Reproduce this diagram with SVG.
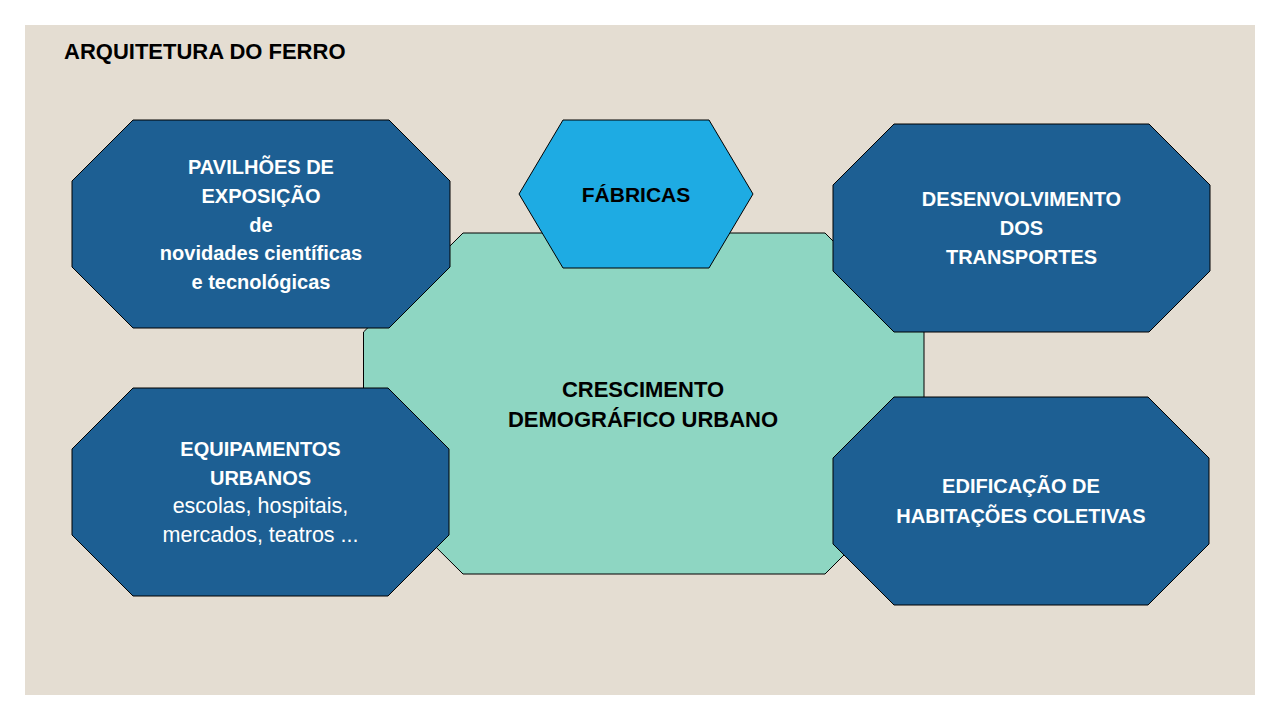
<svg xmlns="http://www.w3.org/2000/svg" width="1280" height="720" viewBox="0 0 1280 720">
<style>
.blue{fill:#1D5F93;stroke:#000;stroke-width:1}
.green{fill:#8ED6C2;stroke:#000;stroke-width:1}
.cyan{fill:#1EABE3;stroke:#000;stroke-width:1}
text{font-family:"Liberation Sans",Arial,sans-serif;text-anchor:middle}
.w{fill:#fff;font-size:20px;font-weight:bold}
.wr{fill:#fff;font-size:21.5px;font-weight:normal}
.k{fill:#000;font-size:22px;font-weight:bold}
</style>
<rect x="0" y="0" width="1280" height="720" fill="#fff"/>
<rect x="25" y="25" width="1230" height="670" fill="#E4DDD2"/>
<text x="64" y="59" style="text-anchor:start;font-size:22px;font-weight:bold;fill:#000">ARQUITETURA DO FERRO</text>
<g id="connectors"/>
<g id="node-center">
<polygon class="green" points="463,233 825,233 924,332 924,475 825,574 463,574 363.5,475 363.5,332"/>
<text class="k" x="643" y="397">CRESCIMENTO</text>
<text class="k" x="643" y="427">DEMOGRÁFICO URBANO</text>
</g>
<g id="node-pavilhoes">
<polygon class="blue" points="133,120 389,120 450,181 450,267 389,328 133,328 72,267 72,181"/>
<text class="w" x="261" y="174">PAVILHÕES DE</text>
<text class="w" x="261" y="203">EXPOSIÇÃO</text>
<text class="w" x="261" y="231.5">de</text>
<text class="w" x="261" y="260">novidades científicas</text>
<text class="w" x="261" y="289">e tecnológicas</text>
</g>
<g id="node-equipamentos">
<polygon class="blue" points="133,388 388,388 449,449 449,535 388,596 133,596 72,535 72,449"/>
<text class="w" x="260.5" y="456">EQUIPAMENTOS</text>
<text class="w" x="260.5" y="484.5">URBANOS</text>
<text class="wr" x="260.5" y="513">escolas, hospitais,</text>
<text class="wr" x="260.5" y="542">mercados, teatros ...</text>
</g>
<g id="node-transportes">
<polygon class="blue" points="894,124 1149,124 1210,185 1210,271 1149,332 894,332 833,271 833,185"/>
<text class="w" x="1021.5" y="206">DESENVOLVIMENTO</text>
<text class="w" x="1021.5" y="235">DOS</text>
<text class="w" x="1021.5" y="264">TRANSPORTES</text>
</g>
<g id="node-habitacoes">
<polygon class="blue" points="894,397 1148,397 1209,458 1209,544 1148,605 894,605 833,544 833,458"/>
<text class="w" x="1021" y="493">EDIFICAÇÃO DE</text>
<text class="w" x="1021" y="522.5">HABITAÇÕES COLETIVAS</text>
</g>
<g id="node-fabricas">
<polygon class="cyan" points="519,194 563,120 709,120 753,194 709,268 563,268"/>
<text class="k" x="636" y="202" style="font-size:21px">FÁBRICAS</text>
</g>
</svg>
